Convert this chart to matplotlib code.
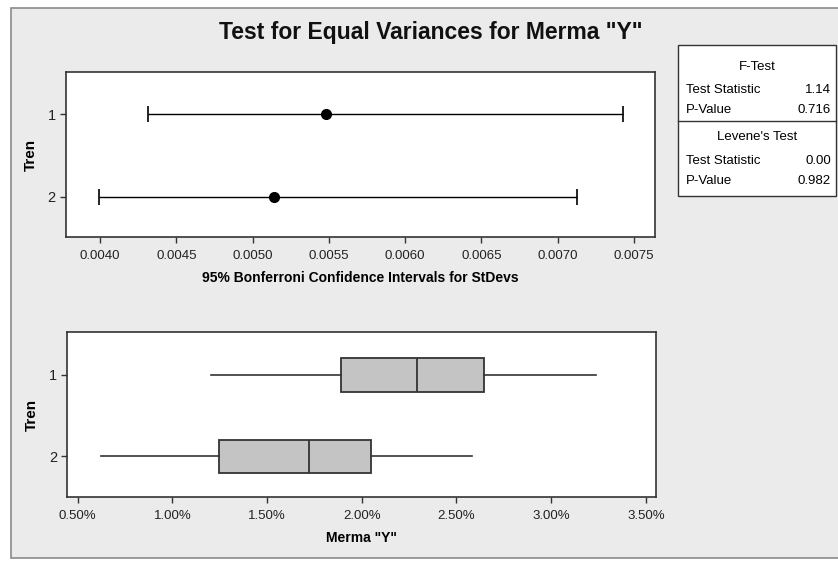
import matplotlib
matplotlib.use('Agg')
import matplotlib.pyplot as plt
from matplotlib.patches import Rectangle
from matplotlib.lines import Line2D

# ---- data ----
groups = ['1', '2']
ci_lower = [0.004317, 0.003993]
ci_stdev = [0.005481, 0.005142]
ci_upper = [0.007426, 0.007124]

box_whislo = [1.203, 0.621]
box_q1 = [1.890, 1.244]
box_med = [2.294, 1.721]
box_q3 = [2.643, 2.047]
box_whishi = [3.237, 2.584]

top_xticks = [0.0040, 0.0045, 0.0050, 0.0055, 0.0060, 0.0065, 0.0070, 0.0075]
top_xticklabels = ['0.0040', '0.0045', '0.0050', '0.0055', '0.0060', '0.0065', '0.0070', '0.0075']
bot_xticks = [0.5, 1.0, 1.5, 2.0, 2.5, 3.0, 3.5]
bot_xticklabels = ['0.50%', '1.00%', '1.50%', '2.00%', '2.50%', '3.00%', '3.50%']

ftest_rows = [('Test Statistic', '1.14'), ('P-Value', '0.716')]
levene_rows = [('Test Statistic', '0.00'), ('P-Value', '0.982')]

title = 'Test for Equal Variances for Merma "Y"'
top_xlabel = '95% Bonferroni Confidence Intervals for StDevs'
bot_xlabel = 'Merma "Y"'
ylabel = 'Tren'

plt.rcParams['font.family'] = ['Liberation Sans', 'DejaVu Sans']

W, H = 838, 561
fig = plt.figure(figsize=(W / 100, H / 100), dpi=100)
fig.patch.set_facecolor('white')

def fx(px):
    return px / W

def fy(py):
    return 1 - py / H

# outer frame
fig.patches.append(Rectangle((fx(11), fy(558)), fx(838 + 5) - fx(11), fy(8) - fy(558),
                             transform=fig.transFigure, facecolor='#ebebeb',
                             edgecolor='#8a8a8a', lw=1.2, zorder=-5))

fig.text(fx(431), fy(32), title, ha='center', va='center', fontsize=16.5,
         fontweight='bold', color='#111111')

# ---- top panel ----
ax1 = fig.add_axes([fx(66), fy(237), fx(654.7) - fx(66), fy(72) - fy(237)])
ys = [1, 2]
for i, y in enumerate(ys):
    ax1.errorbar([ci_stdev[i]], [y],
                 xerr=[[ci_stdev[i] - ci_lower[i]], [ci_upper[i] - ci_stdev[i]]],
                 fmt='o', color='black', ms=7, lw=1.0, capsize=6, capthick=1.2)
ax1.set_xlim(0.003777, 0.007636)
ax1.set_ylim(2.49, 0.49)
ax1.set_xticks(top_xticks)
ax1.set_xticklabels(top_xticklabels)
ax1.set_yticks(ys)
ax1.set_yticklabels(groups)
ax1.set_xlabel(top_xlabel, fontsize=10, fontweight='bold', labelpad=6)
ax1.set_ylabel(ylabel, fontsize=11, fontweight='bold', labelpad=7)

# ---- bottom panel ----
ax2 = fig.add_axes([fx(67.3), fy(497.3), fx(655.7) - fx(67.3), fy(332.3) - fy(497.3)])
stats = []
for i in range(len(groups)):
    stats.append(dict(whislo=box_whislo[i], q1=box_q1[i], med=box_med[i],
                      q3=box_q3[i], whishi=box_whishi[i], fliers=[]))
ax2.bxp(stats, positions=ys, vert=False, widths=0.41, patch_artist=True,
        showcaps=False,
        boxprops=dict(facecolor='#c4c4c4', edgecolor='#333333', lw=1.3),
        medianprops=dict(color='#333333', lw=1.3),
        whiskerprops=dict(color='#333333', lw=1.2))
ax2.set_xlim(0.445, 3.552)
ax2.set_ylim(2.5, 0.48)
ax2.set_xticks(bot_xticks)
ax2.set_xticklabels(bot_xticklabels)
ax2.set_yticks(ys)
ax2.set_yticklabels(groups)
ax2.set_xlabel(bot_xlabel, fontsize=10, fontweight='bold', labelpad=6)
ax2.set_ylabel(ylabel, fontsize=11, fontweight='bold', labelpad=7)

for ax in (ax1, ax2):
    ax.set_zorder(3)
    ax.set_facecolor('white')
    for s in ax.spines.values():
        s.set_color('#333333')
        s.set_linewidth(1.2)
    ax.tick_params(axis='both', direction='out', length=4.5, width=1, color='#333333',
                   labelsize=9.5, labelcolor='#222222')
    ax.tick_params(axis='x', pad=5)
    ax.tick_params(axis='y', labelsize=10.5, pad=3)

# ---- stats table ----
bx0, by0, bx1, by1 = 678, 45, 836, 196
fig.patches.append(Rectangle((fx(bx0), fy(by1)), fx(bx1) - fx(bx0), fy(by0) - fy(by1),
                             transform=fig.transFigure, facecolor='white',
                             edgecolor='#333333', lw=1.0, zorder=1))
fig.lines.append(Line2D([fx(bx0), fx(bx1)], [fy(121), fy(121)], transform=fig.transFigure,
                        color='#333333', lw=1.0, zorder=2))
tfs = 9.5
fig.text(fx(757), fy(67), 'F-Test', ha='center', va='center', fontsize=tfs)
for (lab, val), yy in zip(ftest_rows, [90, 110]):
    fig.text(fx(686), fy(yy), lab, ha='left', va='center', fontsize=tfs)
    fig.text(fx(831), fy(yy), val, ha='right', va='center', fontsize=tfs)
fig.text(fx(757), fy(137), "Levene's Test", ha='center', va='center', fontsize=tfs)
for (lab, val), yy in zip(levene_rows, [161, 181]):
    fig.text(fx(686), fy(yy), lab, ha='left', va='center', fontsize=tfs)
    fig.text(fx(831), fy(yy), val, ha='right', va='center', fontsize=tfs)

fig.savefig('out.png', dpi=100, facecolor=fig.get_facecolor())
